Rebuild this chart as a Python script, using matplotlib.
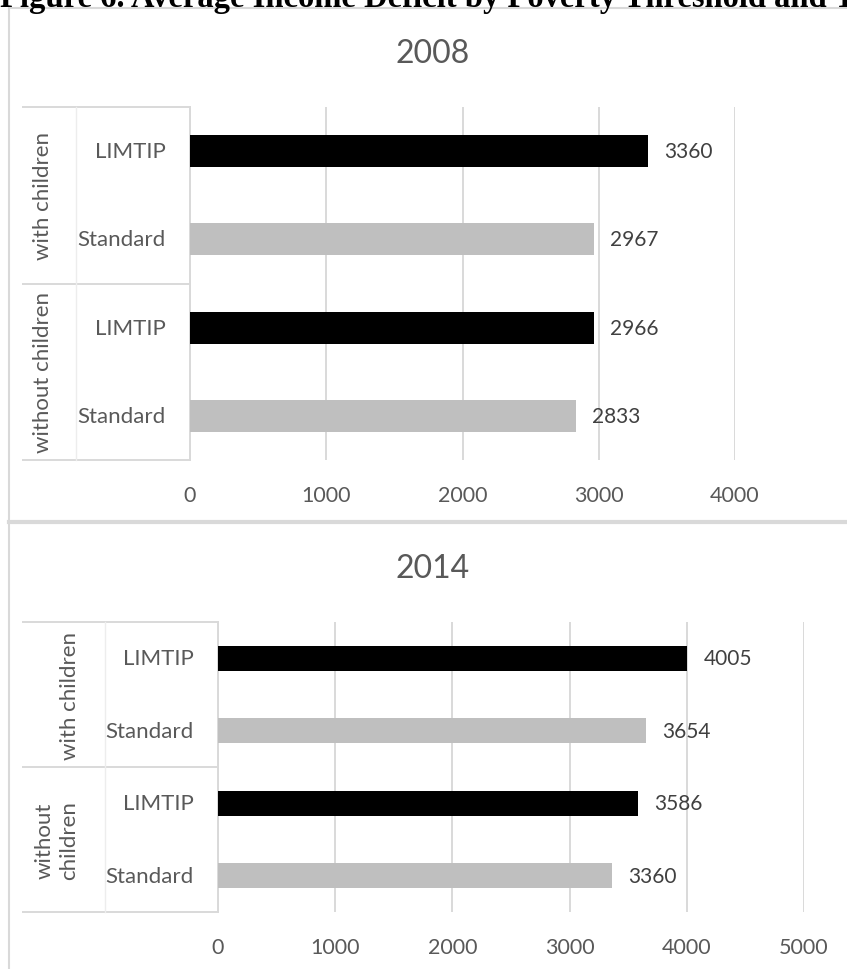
import matplotlib
matplotlib.use('Agg')
import matplotlib.pyplot as plt
from matplotlib.lines import Line2D
import matplotlib.transforms as mtransforms

W, H = 847, 970
DPI = 100

# rows run top to bottom: with children (LIMTIP, Standard), without children (LIMTIP, Standard)
thresholds = ['LIMTIP', 'Standard', 'LIMTIP', 'Standard']
groups_2008 = ['with children', 'without children']
groups_2014 = ['with children', 'without\nchildren']
deficit_2008 = [3360, 2967, 2966, 2833]
deficit_2014 = [4005, 3654, 3586, 3360]
ticks_2008 = [0, 1000, 2000, 3000, 4000]
ticks_2014 = [0, 1000, 2000, 3000, 4000, 5000]

bar_colors = ['#000000', '#bfbfbf', '#000000', '#bfbfbf']
GRID = '#d9d9d9'
TXT = '#595959'
LBL = '#404040'
FONT = 'Lato'

plt.rcParams['font.family'] = FONT

fig = plt.figure(figsize=(W / DPI, H / DPI), dpi=DPI)


def fx(px):
    return px / W


def fy(py):
    return 1 - py / H


def fig_line(x0, y0, x1, y1, lw=1.5):
    fig.add_artist(Line2D([fx(x0), fx(x1)], [fy(y0), fy(y1)], color=GRID, lw=lw,
                          transform=fig.transFigure))


def draw_panel(year, values, groups, ticks, left, right, top, bottom,
               box_left, box_mid, group_x, title_y, bar_h):
    ax = fig.add_axes([fx(left), fy(bottom), fx(right - left), (bottom - top) / H])
    ypos = list(range(len(values)))
    ax.barh(ypos, values, height=bar_h, color=bar_colors, zorder=3)
    ax.set_ylim(len(values) - 0.5, -0.5)
    ax.set_xlim(ticks[0], ticks[-1])
    ax.set_xticks(ticks)
    ax.set_xticklabels([str(t) for t in ticks], fontsize=15.5, color=TXT)
    ax.tick_params(axis='x', length=0, pad=18)
    ax.set_yticks([])
    for s in ax.spines.values():
        s.set_visible(False)
    ax.grid(axis='x', color=GRID, lw=1.4, zorder=0)

    # value labels just past the bar ends
    off = mtransforms.offset_copy(ax.transData, fig=fig, x=16, y=0, units='dots')
    for y, v in zip(ypos, values):
        ax.text(v, y, str(v), transform=off, ha='left', va='center',
                fontsize=15, color=LBL)

    # two-level category axis on the left
    width = right - left
    tr = mtransforms.blended_transform_factory(ax.transAxes, ax.transData)
    xa_box = (box_left - left) / width
    xa_mid = (box_mid - left) / width
    for y, name in zip(ypos, thresholds):
        ax.text(-24 / width, y, name, transform=tr, ha='right', va='center',
                fontsize=16, color=TXT)
    for g, name in enumerate(groups):
        yc = 2 * g + 0.5
        ax.text((group_x[g] - left) / width, yc, name, transform=tr, rotation=90,
                ha='center', va='center', fontsize=16, color=TXT,
                linespacing=1.3)
    for yb in [-0.5, 1.5, 3.5]:
        ax.add_line(Line2D([xa_box, 0], [yb, yb], color=GRID, lw=1.4,
                           transform=tr, clip_on=False))
    ax.add_line(Line2D([0, 0], [-0.5, 3.5], color=GRID, lw=1.4,
                       transform=tr, clip_on=False))
    ax.add_line(Line2D([xa_mid, xa_mid], [-0.5, 3.5], color='#ededed', lw=1.0,
                       transform=tr, clip_on=False))

    fig.text(fx(433), fy(title_y), year, ha='center', va='center',
             fontsize=23, color=TXT)


draw_panel('2008', deficit_2008, groups_2008, ticks_2008,
           190, 735, 108, 461, 23, 76, [43, 43], 54, 0.36)
draw_panel('2014', deficit_2014, groups_2014, ticks_2014,
           218, 804, 623, 913, 23, 105, [70, 57], 569, 0.35)

# chart frames
fig_line(9, 9, 9, H)
fig_line(9, 9, W, 9)
fig_line(9, 523, W, 523, lw=3)

fig.text(0, fy(7), 'Figure 6. Average Income Deficit by Poverty Threshold and Type',
         ha='left', va='baseline', family='Liberation Serif', weight='bold',
         fontsize=23.5, color='black')

fig.savefig('out.png', dpi=DPI)
